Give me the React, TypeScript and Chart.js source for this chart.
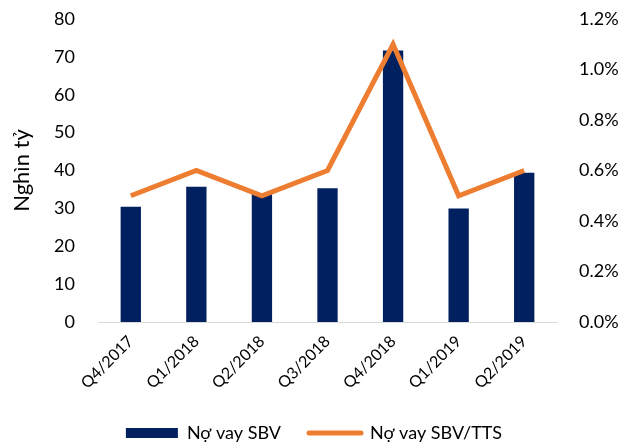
import React, { useEffect, useRef } from "react";
import { Chart, registerables } from "chart.js";

Chart.register(...registerables);

const categories = ["Q4/2017", "Q1/2018", "Q2/2018", "Q3/2018", "Q4/2018", "Q1/2019", "Q2/2019"];
const loanSBV = [30.4, 35.7, 33.8, 35.3, 71.7, 30.0, 39.4];
const loanRatio = [0.5, 0.6, 0.5, 0.6, 1.1, 0.5, 0.6];
const barLabel = "Nợ vay SBV";
const lineLabel = "Nợ vay SBV/TTS";
const leftTitle = "Nghìn tỷ";

const NAVY = "#002060";
const ORANGE = "#ED7D31";
const FONT = "Lato, 'Open Sans', sans-serif";

export default function App() {
  const ref = useRef<HTMLCanvasElement | null>(null);
  useEffect(() => {
    if (!ref.current) return;
    const chart = new Chart(ref.current, {
      data: {
        labels: categories,
        datasets: [
          {
            type: "bar",
            label: barLabel,
            data: loanSBV,
            backgroundColor: NAVY,
            borderWidth: 0,
            yAxisID: "y",
            order: 2,
            barPercentage: 0.62,
            categoryPercentage: 0.5,
          },
          {
            type: "line",
            label: lineLabel,
            data: loanRatio,
            borderColor: ORANGE,
            backgroundColor: ORANGE,
            borderWidth: 5,
            pointRadius: 0,
            tension: 0,
            yAxisID: "y1",
            order: 1,
          },
        ],
      } as any,
      options: {
        animation: false,
        responsive: false,
        maintainAspectRatio: false,
        layout: { padding: { top: 0, left: 0, right: 0, bottom: -6 } },
        plugins: {
          tooltip: { enabled: false },
          legend: {
            position: "bottom",
            labels: {
              usePointStyle: true,
              pointStyleWidth: 52,
              boxHeight: 10,
              padding: 28,
              color: "#000",
              font: { family: FONT, size: 18 },
              generateLabels: (c: any) =>
                c.data.datasets.map((ds: any, i: number) => ({
                  text: ds.label,
                  datasetIndex: i,
                  fillStyle: i === 0 ? NAVY : ORANGE,
                  strokeStyle: i === 0 ? NAVY : ORANGE,
                  lineWidth: i === 0 ? 0 : 5,
                  lineCap: "round",
                  pointStyle: i === 0 ? "rect" : "line",
                  hidden: false,
                  fontColor: "#000",
                })),
            },
          },
        },
        scales: {
          x: {
            grid: { display: false, drawTicks: false },
            border: { display: true, color: "#d9d9d9", width: 1 },
            ticks: {
              color: "#000",
              minRotation: 45,
              maxRotation: 45,
              font: { family: FONT, size: 16 },
              padding: 10,
            },
            afterFit: (s: any) => {
              s.height = 74;
            },
          },
          y: {
            position: "left",
            min: 0,
            max: 80,
            grid: { display: false, drawTicks: false },
            border: { display: false },
            ticks: { stepSize: 10, color: "#000", padding: 23, font: { family: FONT, size: 18 } },
            title: {
              display: true,
              text: leftTitle,
              color: "#000",
              font: { family: FONT, size: 22 },
              padding: { top: 9, bottom: 0 },
            },
            afterFit: (s: any) => {
              s.width = 98;
              s.paddingTop = 19;
            },
          },
          y1: {
            position: "right",
            min: 0,
            max: 1.2,
            grid: { display: false, drawTicks: false },
            border: { display: false },
            ticks: {
              stepSize: 0.2,
              color: "#000",
              padding: 22,
              font: { family: FONT, size: 18 },
              callback: (v: any) => Number(v).toFixed(1) + "%",
            },
            afterFit: (s: any) => {
              s.width = 71;
              s.paddingTop = 19;
            },
          },
        },
      } as any,
    });
    return () => chart.destroy();
  }, []);
  return (
    <div style={{ position: "fixed", left: 0, top: 0, width: 628, height: 446, background: "#fff", overflow: "hidden" }}>
      <canvas ref={ref} width={628} height={446} style={{ width: 628, height: 446 }} />
    </div>
  );
}
